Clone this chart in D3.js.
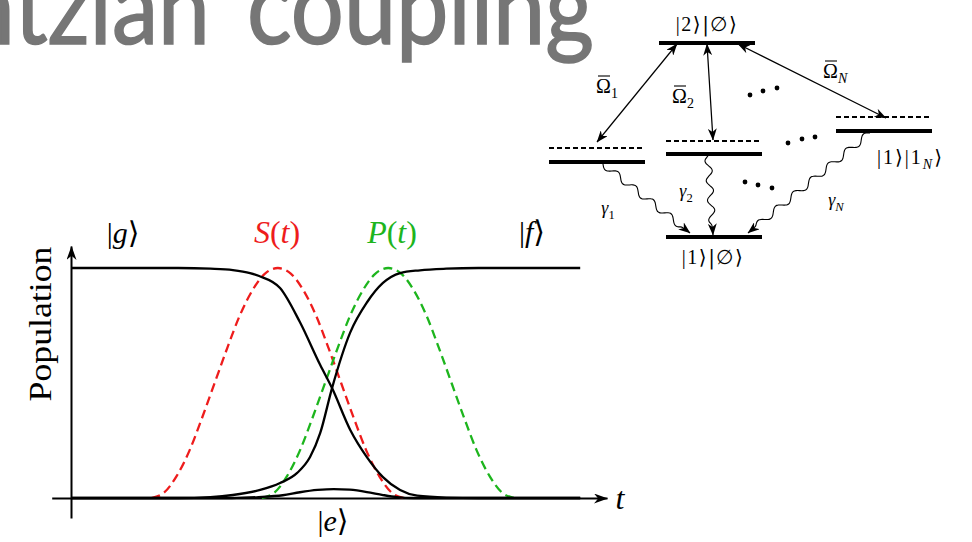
<!DOCTYPE html>
<html>
<head>
<meta charset="utf-8">
<script src="https://cdn.jsdelivr.net/npm/d3@7"></script>
<style>
  body { margin: 0; background: #fff; }
  svg { display: block; }
</style>
</head>
<body>
<div id="fig"></div>
<script>
//values, time in axis units (0..10 = full arrow), population 0..1

// |g> population (black, falling)
let tG   = [0, 2.0, 2.6, 3.02, 3.34, 3.51, 3.90, 4.27, 4.65, 4.87, 5.21, 5.52, 5.82, 6.14, 6.46, 7.0, 7.6, 9.5];
let popG = [1, 1, 0.997, 0.991, 0.978, 0.965, 0.913, 0.765, 0.578, 0.478, 0.296, 0.178, 0.091, 0.035, 0.01, 0.002, 0, 0];

// |f> population (black, rising)
let tF   = [0, 2.0, 2.6, 3.02, 3.53, 3.90, 4.22, 4.46, 4.65, 4.87, 5.21, 5.52, 5.82, 6.14, 6.51, 7.0, 7.6, 9.5];
let popF = [0, 0, 0.004, 0.013, 0.035, 0.065, 0.109, 0.178, 0.283, 0.478, 0.72, 0.85, 0.935, 0.978, 0.99, 0.997, 1, 1];

// |e> population (small bump on the baseline)
let tE   = [0, 3.0, 3.5, 3.95, 4.27, 4.6, 4.9, 5.2, 5.52, 5.82, 6.08, 6.4, 9.5];
let popE = [0, 0, 0.004, 0.012, 0.025, 0.035, 0.039, 0.036, 0.026, 0.013, 0.004, 0, 0];

// Stokes pulse S(t) (red dashed)
let tS   = [1.50, 1.74, 1.97, 2.21, 2.44, 2.68, 2.92, 3.15, 3.39, 3.62, 3.86, 4.10, 4.33, 4.57, 4.80, 5.04, 5.28, 5.51, 5.75, 5.98, 6.22];
let ampS = [0, 0.024, 0.095, 0.206, 0.345, 0.5, 0.655, 0.794, 0.905, 0.976, 1, 0.976, 0.905, 0.794, 0.655, 0.5, 0.345, 0.206, 0.095, 0.024, 0];

// pump pulse P(t) (green dashed)
let tP   = [3.56, 3.80, 4.03, 4.27, 4.50, 4.74, 4.98, 5.21, 5.45, 5.68, 5.92, 6.16, 6.39, 6.63, 6.86, 7.10, 7.34, 7.57, 7.81, 8.04, 8.28];
let ampP = [0, 0.024, 0.095, 0.206, 0.345, 0.5, 0.655, 0.794, 0.905, 0.976, 1, 0.976, 0.905, 0.794, 0.655, 0.5, 0.345, 0.206, 0.095, 0.024, 0];

let width = 972;
let height = 542;
let serif = '"Liberation Serif", "DejaVu Serif", serif';

let svg = d3
  .select('#fig')
  .append('svg')
  .attr('width', width)
  .attr('height', height);

svg.append('rect').attr('width', width).attr('height', height).attr('fill', '#fff');

// arrow heads (latex style)
let defs = svg.append('defs');
function addArrow(id, len, wid) {
  defs.append('marker')
    .attr('id', id)
    .attr('viewBox', `0 0 ${len} ${wid}`)
    .attr('refX', len - 0.5)
    .attr('refY', wid / 2)
    .attr('markerUnits', 'userSpaceOnUse')
    .attr('markerWidth', len)
    .attr('markerHeight', wid)
    .attr('orient', 'auto-start-reverse')
    .append('path')
    .attr('d', `M0,0 L${len},${wid / 2} L0,${wid} L${len * 0.3},${wid / 2} Z`)
    .attr('fill', '#000');
}
addArrow('axArrow', 14, 10);
addArrow('smArrow', 12, 9);

//TITLE (cut off on the left and top like the slide)
// two words with fixed lengths so the stretched look of the slide font comes back
let titleFont = 'Lato, "Open Sans", sans-serif';
function titleWord(str, px, anchor, len) {
  svg.append('text')
    .attr('x', px)
    .attr('y', 44)
    .attr('text-anchor', anchor)
    .attr('textLength', len)
    .attr('lengthAdjust', 'spacingAndGlyphs')
    .attr('fill', '#767676')
    .attr('stroke', '#767676')
    .attr('stroke-width', 1.6)
    .style('font-family', titleFont)
    .style('font-weight', 400)
    .style('font-size', '104px')
    .text(str);
}
titleWord('Lorentzian', 210, 'end', 425);
titleWord('coupling', 247, 'start', 347);

//PLOT================================================
let x = d3.scaleLinear().domain([0, 10]).range([71, 607]);
let y = d3.scaleLinear().domain([0, 1]).range([498, 268]);

// axes: no ticks, just arrow lines that overshoot the origin
let xAxisScale = d3.scaleLinear().domain([-0.36, 10]).range([x(-0.36), x(10)]);
let yAxisScale = d3.scaleLinear().domain([-0.087, 1.096]).range([y(-0.087), y(1.096)]);

let gx = svg.append('g')
  .attr('transform', `translate(0, ${y(0)})`)
  .call(d3.axisBottom(xAxisScale).tickValues([]).tickSizeOuter(0));
gx.select('.domain').attr('stroke', '#000').attr('stroke-width', 2).attr('marker-end', 'url(#axArrow)');

let gy = svg.append('g')
  .attr('transform', `translate(${x(0)}, 0)`)
  .call(d3.axisLeft(yAxisScale).tickValues([]).tickSizeOuter(0));
gy.select('.domain').attr('stroke', '#000').attr('stroke-width', 2).attr('marker-end', 'url(#axArrow)');

let line = d3.line()
  .x(d => x(d[0]))
  .y(d => y(d[1]))
  .curve(d3.curveMonotoneX);

function drawCurve(ts, vs, color, dash) {
  svg.append('path')
    .datum(ts.map((t, i) => [t, vs[i]]))
    .attr('d', line)
    .attr('fill', 'none')
    .attr('stroke', color)
    .attr('stroke-width', 2.3)
    .attr('stroke-dasharray', dash)
    .attr('stroke-linecap', 'butt');
}

drawCurve(tS, ampS, '#ee1c1c', '9,5');
drawCurve(tP, ampP, '#1db51d', '9,5');
drawCurve(tE, popE, '#000', null);
drawCurve(tG, popG, '#000', null);
drawCurve(tF, popF, '#000', null);

// math labels made of tspans
function mathText(parent, px, py, parts, size, color, anchor) {
  let t = parent.append('text')
    .attr('x', px)
    .attr('y', py)
    .attr('text-anchor', anchor || 'middle')
    .attr('fill', color || '#000')
    .style('font-family', serif)
    .style('font-size', size + 'px');
  parts.forEach(p => {
    let s = t.append('tspan').text(p.s);
    if (p.i) s.style('font-style', 'italic');
    if (p.sub) s.attr('dy', size * 0.25).style('font-size', (size * 0.7) + 'px');
    if (p.up) s.attr('dy', -size * 0.25);
    if (p.f) s.style('font-family', p.f);
  });
  return t;
}

let bra = '"DejaVu Serif", serif';
mathText(svg, 123, 243, [{ s: '|' }, { s: 'g', i: 1 }, { s: '⟩', f: bra }], 30);
mathText(svg, 277, 243, [{ s: 'S', i: 1 }, { s: '(' }, { s: 't', i: 1 }, { s: ')' }], 32, '#ee1c1c');
mathText(svg, 392, 243, [{ s: 'P', i: 1 }, { s: '(' }, { s: 't', i: 1 }, { s: ')' }], 32, '#1db51d');
mathText(svg, 532, 242, [{ s: '|' }, { s: 'f', i: 1 }, { s: '⟩', f: bra }], 30);
mathText(svg, 333, 531, [{ s: '|' }, { s: 'e', i: 1 }, { s: '⟩', f: bra }], 30);
mathText(svg, 620, 509, [{ s: 't', i: 1 }], 32);

svg.append('text')
  .attr('transform', 'translate(51, 324) rotate(-90)')
  .attr('text-anchor', 'middle')
  .attr('textLength', 155)
  .attr('lengthAdjust', 'spacingAndGlyphs')
  .style('font-family', serif)
  .style('font-size', '31px')
  .text('Population');

//LEVEL DIAGRAM================================================
let dg = svg.append('g').attr('class', 'diagram');

function bar(x1, x2, yy) {
  dg.append('line').attr('x1', x1).attr('x2', x2).attr('y1', yy).attr('y2', yy)
    .attr('stroke', '#000').attr('stroke-width', 4);
}
function dashBar(x1, x2, yy) {
  dg.append('line').attr('x1', x1).attr('x2', x2).attr('y1', yy).attr('y2', yy)
    .attr('stroke', '#000').attr('stroke-width', 2).attr('stroke-dasharray', '5,3');
}
bar(659, 755, 43);
bar(549, 645, 162); dashBar(549, 645, 148);
bar(666, 762, 154); dashBar(666, 762, 141);
bar(836, 932, 131); dashBar(836, 932, 117);
bar(666, 762, 237);

function dblArrow(x1, y1, x2, y2) {
  dg.append('line').attr('x1', x1).attr('y1', y1).attr('x2', x2).attr('y2', y2)
    .attr('stroke', '#000').attr('stroke-width', 1.2)
    .attr('marker-start', 'url(#smArrow)').attr('marker-end', 'url(#smArrow)');
}
dblArrow(677, 44, 597, 142);
dblArrow(707, 44, 713, 140);
dblArrow(738, 44, 886, 118);

// wavy decay lines
function wavy(x1, y1, x2, y2, waves) {
  let dx = x2 - x1, dy = y2 - y1;
  let len = Math.hypot(dx, dy);
  let ux = dx / len, uy = dy / len;
  let run = len - 10;
  let pts = d3.range(0, 1.0001, 1 / (waves * 16)).map(u => {
    let a = 3.4 * Math.sin(u * waves * 2 * Math.PI);
    return [x1 + ux * run * u - uy * a, y1 + uy * run * u + ux * a];
  });
  pts.push([x2, y2]);
  dg.append('path')
    .attr('d', d3.line().curve(d3.curveBasis)(pts))
    .attr('fill', 'none')
    .attr('stroke', '#000')
    .attr('stroke-width', 1.1)
    .attr('marker-end', 'url(#smArrow)');
}
wavy(603, 164, 690, 233, 4.5);
wavy(708, 156, 713, 235, 3.5);
wavy(870, 133, 748, 233, 6.5);

// dots
let dotGroups = [[750, 95], [763, 91], [777, 88], [788, 143], [802, 139], [815, 137], [745, 182], [758, 185], [772, 188]];
dg.selectAll('circle.dot').data(dotGroups).enter().append('circle')
  .attr('class', 'dot').attr('cx', d => d[0]).attr('cy', d => d[1]).attr('r', 2.4).attr('fill', '#000');

let ds = 20;
mathText(dg, 707, 31, [{ s: '|2' }, { s: '⟩', f: bra }, { s: '|∅', f: bra }, { s: '⟩', f: bra }], ds)
  .style('letter-spacing', '1.5px');
mathText(dg, 713, 264, [{ s: '|1' }, { s: '⟩', f: bra }, { s: '|∅', f: bra }, { s: '⟩', f: bra }], ds)
  .style('letter-spacing', '1.5px');
mathText(dg, 877, 164, [{ s: '|1' }, { s: '⟩', f: bra }, { s: '|1' }, { s: 'N', i: 1, sub: 1 }, { s: '⟩', f: bra, up: 1 }], ds, '#000', 'start')
  .style('letter-spacing', '2px');

// Omega-bar labels: Omega + subscript, with the bar drawn over the Omega
function omegaBar(px, py, sub, italicSub) {
  let t = mathText(dg, px, py, [{ s: 'Ω' }, { s: sub, i: italicSub, sub: 1 }], 20, '#000', 'start');
  dg.append('line')
    .attr('x1', px + 2).attr('x2', px + 14)
    .attr('y1', py - 17).attr('y2', py - 17)
    .attr('stroke', '#000').attr('stroke-width', 1.1);
  return t;
}
omegaBar(596, 93, '1', 0);
omegaBar(672, 103, '2', 0);
omegaBar(823, 78, 'N', 1);

mathText(dg, 608, 214, [{ s: 'γ', i: 1 }, { s: '1', sub: 1 }], 18);
mathText(dg, 686, 197, [{ s: 'γ', i: 1 }, { s: '2', sub: 1 }], 18);
mathText(dg, 836, 206, [{ s: 'γ', i: 1 }, { s: 'N', i: 1, sub: 1 }], 18);
</script>
</body>
</html>
